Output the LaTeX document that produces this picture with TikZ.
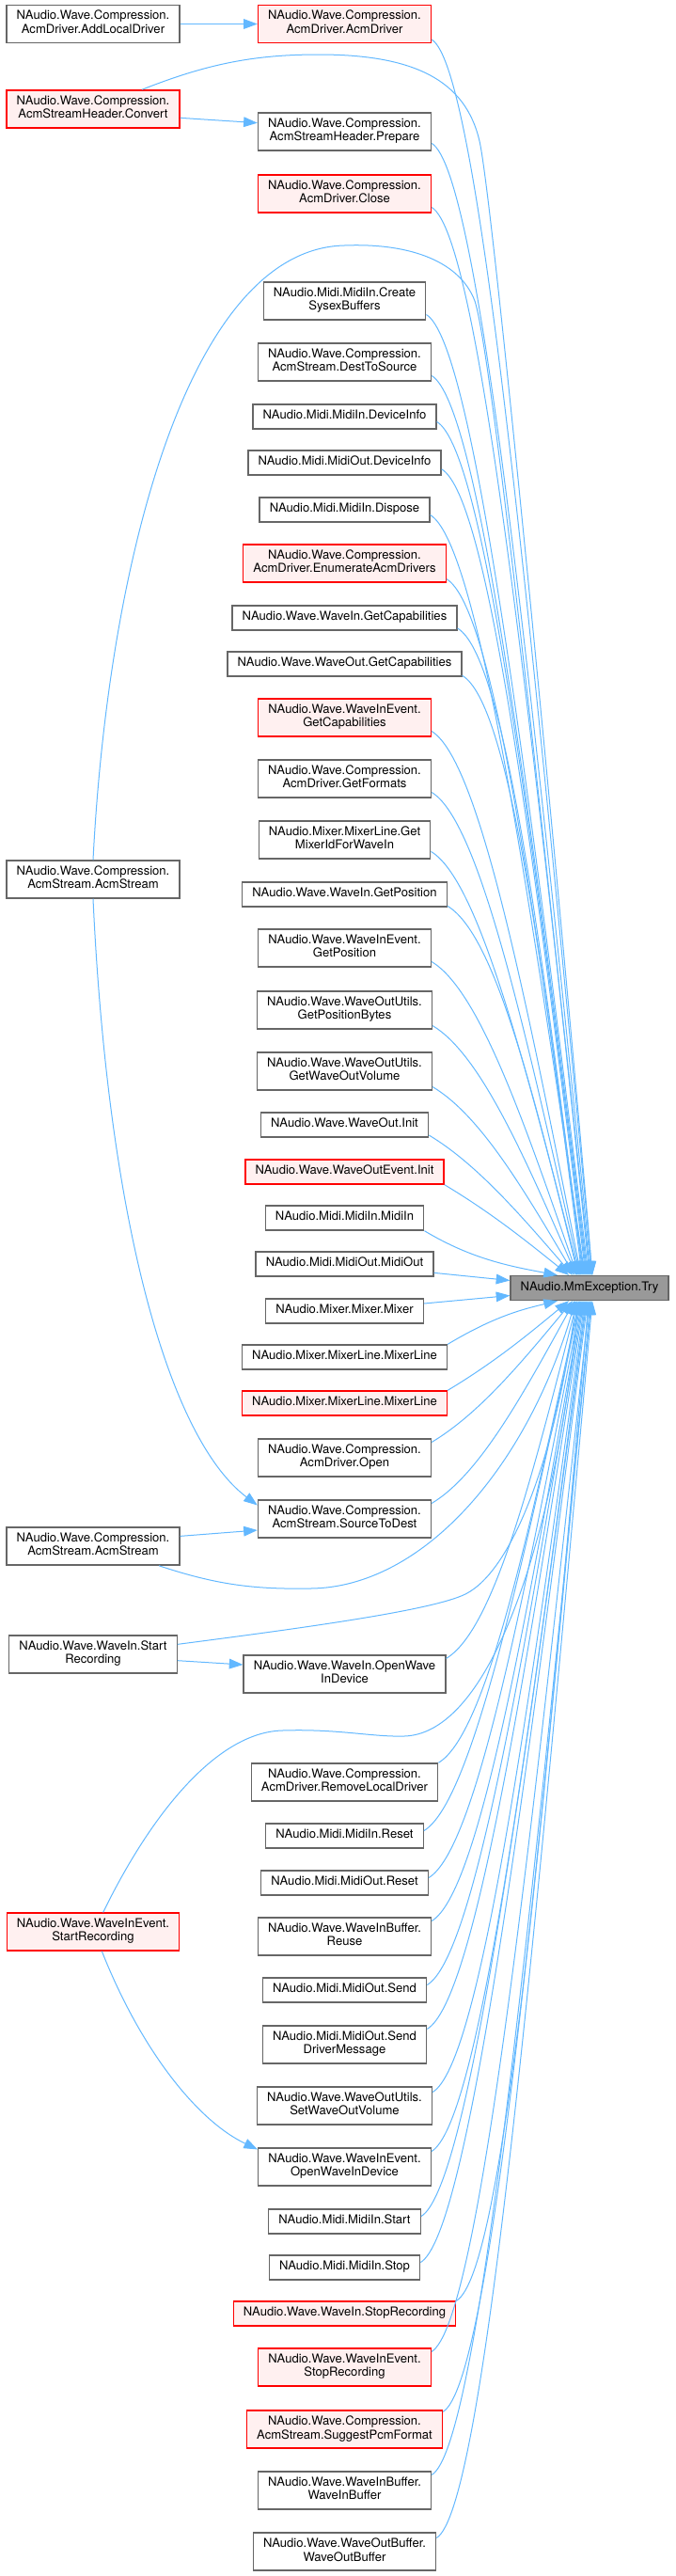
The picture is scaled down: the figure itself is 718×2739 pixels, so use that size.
\documentclass[tikz,border=0pt]{standalone}
\usepackage{fontspec}
\setmainfont{TeX Gyre Heros}
\usetikzlibrary{arrows.meta,calc}
\definecolor{GraphLine}{HTML}{666666}
\definecolor{GraphEdge}{HTML}{63B8FF}
\definecolor{GraphHot}{HTML}{FF0000}
\definecolor{GraphHotFill}{HTML}{FFF0F0}
\definecolor{GraphRoot}{HTML}{999999}
\tikzset{
  caller/.style={draw=GraphLine, line width=1pt, fill=white, inner xsep=8pt, inner ysep=4.3pt,
    align=center, font=\fontsize{9.8}{10.9}\selectfont,
    execute at begin node=\strut, execute at end node=\strut},
  hot/.style={caller, draw=GraphHot, fill=GraphHotFill},
  target/.style={caller, fill=GraphRoot},
  call/.style={-{Triangle[length=11pt,width=8pt]}, draw=GraphEdge, line width=0.75pt},
}

\begin{document}
\begin{tikzpicture}[x=0.75pt,y=-0.75pt]
  \useasboundingbox (0,0) rectangle (718,2739);
  % Called function
  \node[target] (try) at (627,1369.5) {NAudio.MmException.Try};
  % Left column
  \node[caller] (addlocal) at (99,25.5) {NAudio.Wave.Compression.\\AcmDriver.AddLocalDriver};
  \node[hot] (convert) at (99,116) {NAudio.Wave.Compression.\\AcmStreamHeader.Convert};
  \node[caller] (acmstreamA) at (99,935) {NAudio.Wave.Compression.\\AcmStream.AcmStream};
  \node[caller] (acmstreamB) at (99,1644) {NAudio.Wave.Compression.\\AcmStream.AcmStream};
  \node[caller] (winstart) at (99,1759) {NAudio.Wave.WaveIn.Start\\Recording};
  \node[hot] (wievstart) at (99,2054) {NAudio.Wave.WaveInEvent.\\StartRecording};
  % Middle column
  \node[hot] (acmdriver) at (366.5,25.5) {NAudio.Wave.Compression.\\AcmDriver.AcmDriver};
  \node[caller] (prepare) at (366.5,140) {NAudio.Wave.Compression.\\AcmStreamHeader.Prepare};
  \node[hot] (close) at (366.5,206) {NAudio.Wave.Compression.\\AcmDriver.Close};
  \node[caller] (sysex) at (366.5,320) {NAudio.Midi.MidiIn.Create\\SysexBuffers};
  \node[caller] (desttosrc) at (366.5,385) {NAudio.Wave.Compression.\\AcmStream.DestToSource};
  \node[caller] (midiininfo) at (366.5,443) {NAudio.Midi.MidiIn.DeviceInfo};
  \node[caller] (midioutinfo) at (366.5,492) {NAudio.Midi.MidiOut.DeviceInfo};
  \node[caller] (midiindispose) at (366.5,542) {NAudio.Midi.MidiIn.Dispose};
  \node[hot] (enumdrivers) at (366.5,599) {NAudio.Wave.Compression.\\AcmDriver.EnumerateAcmDrivers};
  \node[caller] (wincaps) at (366.5,657) {NAudio.Wave.WaveIn.GetCapabilities};
  \node[caller] (woutcaps) at (366.5,706) {NAudio.Wave.WaveOut.GetCapabilities};
  \node[hot] (wievcaps) at (366.5,763) {NAudio.Wave.WaveInEvent.\\GetCapabilities};
  \node[caller] (formats) at (366.5,828) {NAudio.Wave.Compression.\\AcmDriver.GetFormats};
  \node[caller] (mixerid) at (366.5,893) {NAudio.Mixer.MixerLine.Get\\MixerIdForWaveIn};
  \node[caller] (winpos) at (366.5,951) {NAudio.Wave.WaveIn.GetPosition};
  \node[caller] (wievpos) at (366.5,1008) {NAudio.Wave.WaveInEvent.\\GetPosition};
  \node[caller] (posbytes) at (366.5,1074) {NAudio.Wave.WaveOutUtils.\\GetPositionBytes};
  \node[caller] (getvol) at (366.5,1139) {NAudio.Wave.WaveOutUtils.\\GetWaveOutVolume};
  \node[caller] (woutinit) at (366.5,1196) {NAudio.Wave.WaveOut.Init};
  \node[hot] (woevinit) at (366.5,1246) {NAudio.Wave.WaveOutEvent.Init};
  \node[caller] (midiin) at (366.5,1295) {NAudio.Midi.MidiIn.MidiIn};
  \node[caller] (midiout) at (366.5,1344) {NAudio.Midi.MidiOut.MidiOut};
  \node[caller] (mixer) at (366.5,1394) {NAudio.Mixer.Mixer.Mixer};
  \node[caller] (mixerline) at (366.5,1443) {NAudio.Mixer.MixerLine.MixerLine};
  \node[hot] (mixerlinered) at (366.5,1492) {NAudio.Mixer.MixerLine.MixerLine};
  \node[caller] (open) at (366.5,1550) {NAudio.Wave.Compression.\\AcmDriver.Open};
  \node[caller] (srctodest) at (366.5,1615) {NAudio.Wave.Compression.\\AcmStream.SourceToDest};
  \node[caller] (winopen) at (366.5,1780) {NAudio.Wave.WaveIn.OpenWave\\InDevice};
  \node[caller] (removelocal) at (366.5,1895) {NAudio.Wave.Compression.\\AcmDriver.RemoveLocalDriver};
  \node[caller] (midiinreset) at (366.5,1952) {NAudio.Midi.MidiIn.Reset};
  \node[caller] (midioutreset) at (366.5,2002) {NAudio.Midi.MidiOut.Reset};
  \node[caller] (reuse) at (366.5,2059) {NAudio.Wave.WaveInBuffer.\\Reuse};
  \node[caller] (send) at (366.5,2116) {NAudio.Midi.MidiOut.Send};
  \node[caller] (senddrv) at (366.5,2174) {NAudio.Midi.MidiOut.Send\\DriverMessage};
  \node[caller] (setvol) at (366.5,2239) {NAudio.Wave.WaveOutUtils.\\SetWaveOutVolume};
  \node[caller] (wievopen) at (366.5,2304) {NAudio.Wave.WaveInEvent.\\OpenWaveInDevice};
  \node[caller] (midiinstart) at (366.5,2362) {NAudio.Midi.MidiIn.Start};
  \node[caller] (midiinstop) at (366.5,2411) {NAudio.Midi.MidiIn.Stop};
  \node[hot] (winstop) at (366.5,2460) {NAudio.Wave.WaveIn.StopRecording};
  \node[hot] (wievstop) at (366.5,2517) {NAudio.Wave.WaveInEvent.\\StopRecording};
  \node[hot] (suggest) at (366.5,2583) {NAudio.Wave.Compression.\\AcmStream.SuggestPcmFormat};
  \node[caller] (wibuf) at (366.5,2648) {NAudio.Wave.WaveInBuffer.\\WaveInBuffer};
  \node[caller] (wobuf) at (366.5,2713) {NAudio.Wave.WaveOutBuffer.\\WaveOutBuffer};
  % Calls arriving on top of Try
  \foreach \n/\f/\d in {acmdriver/0.8/3, prepare/0.6/2, close/0.7/1, sysex/0.7/-1, desttosrc/0.7/-2,
      midiininfo/0.4/-3, midioutinfo/0.5/-4, midiindispose/0.4/-5, enumdrivers/0.8/-6, wincaps/0.8/-7,
      woutcaps/0.9/-8, wievcaps/0.7/-9, formats/0.7/-10, mixerid/0.6/-11, winpos/0.9/-12,
      wievpos/0.7/-13, posbytes/0.8/-14, getvol/0.8/-16, woutinit/0.8/-18, woevinit/1/-22, midiin/1/-34}{
    \coordinate (s) at ($(\n.east)!\f!(\n.south east)$);
    \coordinate (e) at ($(try.north)+(\d,0)$);
    \coordinate (c) at ($(s)+(50,30)$);
    \draw[call] (s) .. controls (c) and ($(e)!0.55!(c)$) .. (e);
  }
  % Calls arriving under Try
  \foreach \n/\f/\d in {mixerline/-1/-34, mixerlinered/-1/-22, open/-0.8/-18, srctodest/-0.8/-16,
      winopen/-0.8/-13, removelocal/-1/-11, midiinreset/-0.4/-10, midioutreset/-0.4/-9, reuse/-0.8/-8,
      send/-0.4/-7, senddrv/-0.8/-6, setvol/-0.7/-5, wievopen/-0.8/-4, midiinstart/-0.4/-3,
      midiinstop/-0.4/-2, winstop/-1/-1, wievstop/-0.8/0, suggest/-0.9/1, wibuf/-0.8/2, wobuf/-0.7/3}{
    \coordinate (s) at ($(\n.east)!\f!(\n.south east)$);
    \coordinate (e) at ($(try.south)+(\d,0)$);
    \coordinate (c) at ($(s)+(50,-30)$);
    \draw[call] (s) .. controls (c) and ($(e)!0.55!(c)$) .. (e);
  }
  % Straight into the side of Try
  \draw[call] ([yshift=-7pt]midiout.east) -- ([yshift=6pt]try.west);
  \draw[call] ([yshift=6pt]mixer.east) -- ([yshift=-6pt]try.west);
  % Left column calls
  \draw[call] (addlocal) -- (acmdriver);
  \draw[call] ([yshift=-7pt]convert.east) -- ([yshift=7pt]prepare.west);
  \draw[call] ([xshift=39pt]convert.north) .. controls (220,68) and (270,58) .. (339,58)
    .. controls (440,58) and (495,85) .. (510,150)
    .. controls (525,215) and (600,1000) .. ($(try.north)+(3,0)$);
  \draw[call] (acmstreamA.north) .. controls (115,600) and (200,265) .. (366,261)
    .. controls (440,258) and (490,280) .. (505,320)
    .. controls (525,380) and (590,1000) .. ($(try.north)+(0,0)$);
  \draw[call] (acmstreamA.south) .. controls (115,1300) and (180,1530) .. ($(srctodest.west)!0.7!(srctodest.north west)$);
  \draw[call] ([yshift=8pt]acmstreamB.east) -- ([yshift=-9pt]srctodest.west);
  \draw[call] ($(acmstreamB.south)+(70,0)$) .. controls (230,1685) and (270,1690) .. (330,1689)
    .. controls (450,1688) and (560,1560) .. ($(try.south)+(-15,0)$);
  \draw[call] ([yshift=8pt]winstart.east) .. controls (330,1730) and (460,1712) .. (495,1695)
    .. controls (545,1670) and (590,1550) .. ($(try.south)+(-14,0)$);
  \draw[call] ([yshift=-5pt]winstart.east) -- ([yshift=7.5pt]winopen.west);
  \draw[call] ([xshift=8pt]wievstart.north) .. controls (160,1930) and (230,1842) .. (300,1840)
    .. controls (360,1838) and (395,1847) .. (430,1846)
    .. controls (530,1843) and (595,1600) .. ($(try.south)+(-12,0)$);
  \draw[call] ([xshift=7pt]wievstart.south) .. controls (150,2180) and (210,2255) .. ($(wievopen.west)!0.9!(wievopen.north west)$);
\end{tikzpicture}
\end{document}
